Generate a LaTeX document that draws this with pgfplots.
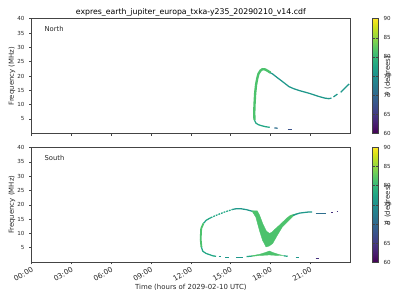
\documentclass[border=0pt]{standalone}
\usepackage{fontspec}
\setmainfont{DejaVu Sans}
\usepackage{pgfplots}
\pgfplotsset{compat=1.18}
\definecolor{vgreen}{HTML}{4CC26C}
\definecolor{vteal}{HTML}{22A785}
\definecolor{vteal2}{HTML}{1F988B}
\definecolor{vblue}{HTML}{2E6E8E}
\definecolor{vdblue}{HTML}{3B528B}
\definecolor{vpurple}{HTML}{46327E}
\definecolor{spine}{HTML}{444444}
\tikzset{cblabel/.style={xshift=27.4pt, rotate=90, anchor=center, font=\fontsize{5}{6}\selectfont, text=black!85}}
\pgfplotsset{
  panel/.style={
    scale only axis, width=229.2pt, height=82.5pt,
    xmin=0, xmax=24, ymin=0, ymax=40, clip=false,
    xtick={0,3,...,21}, ytick={5,10,...,40},
    xtick pos=bottom, ytick pos=left, tick align=outside,
    major tick length=1.7pt,
    /pgf/number format/assume math mode=true,
    tick label style={font=\fontsize{4}{5}\selectfont, text=black!85},
    label style={font=\fontsize{5}{6}\selectfont, text=black!85},
    axis line style={spine, line width=0.5pt},
    tick style={spine, line width=0.4pt},
    ylabel={Frequency (MHz)},
    ylabel style={at={(rel axis cs:-0.062,0.5)}, anchor=center},
    colormap/viridis, point meta min=60, point meta max=90,
    colorbar,
    colorbar style={
      at={(parent axis.north east)}, anchor=north west, xshift=7.9pt,
      width=4.3pt, ytick={60,65,...,90},
      major tick length=1.7pt,
      yticklabel style={font=\fontsize{4}{5}\selectfont, text=black!85},
      axis line style={spine, line width=0.5pt},
      tick style={spine, line width=0.4pt},
      /pgf/number format/assume math mode=true,
    },
  },
  thin/.style={line width=0.9pt, line join=round, line cap=butt},
}
\begin{document}
\begin{tikzpicture}
\path[use as bounding box] (0,0) rectangle (288pt,216pt);
% ---------------- North ----------------
\begin{axis}[panel, at={(22.8pt,120pt)}, anchor=south west, xticklabels={},
  title={expres\_earth\_jupiter\_europa\_txka-y235\_20290210\_v14.cdf},
  every axis title/.style={at={(axis description cs:0.5,1)}, anchor=base, yshift=3.2pt, font=\fontsize{5.6}{6.5}\selectfont, inner sep=0pt}]
% descending branch
\addplot[thin, vteal2] coordinates {(17.9,21.4) (18.17,20.7) (18.5,19.5) (18.9,18.1) (19.4,16.3) (19.8,15.5) (20.2,14.9) (20.9,14.0) (21.3,13.4) (21.7,12.8) (22.1,12.3) (22.4,12.1) (22.6,12.3)};
\addplot[thin, vteal2] coordinates {(22.75,12.7) (23.05,13.7)};
\addplot[thin, vteal2] coordinates {(23.3,14.3) (23.6,15.7) (23.93,17.2)};
% lower tail
\addplot[thin, vteal] coordinates {(16.8,4.6) (16.9,3.6) (17.1,3.0) (17.3,2.7) (17.65,2.3) (17.95,2.1)};
\addplot[thin, vblue] coordinates {(18.3,1.85) (18.55,1.8)};
\addplot[thin, vdblue] coordinates {(19.3,1.4) (19.6,1.4)};
% thick rising branch
\addplot[line width=1.7pt, vgreen, line join=round] coordinates {(16.8,4.6) (16.78,7) (16.8,10) (16.85,14) (16.92,17) (17.0,19) (17.1,20.8) (17.25,21.9) (17.4,22.4) (17.6,22.3) (17.8,21.8) (18.0,21.2)};
\node[anchor=west, font=\fontsize{4.9}{5.5}\selectfont, text=black!85] at (rel axis cs:0.025,0.91) {North};
\node[cblabel] at (rel axis cs:1,0.5) {$\theta$ (degrees)};
\end{axis}
% ---------------- South ----------------
\begin{axis}[panel, at={(22.8pt,27.3pt)}, anchor=south west,
  xticklabels={00:00,03:00,06:00,09:00,12:00,15:00,18:00,21:00},
  xticklabel style={rotate=30, anchor=north east, inner sep=1pt, font=\fontsize{5.2}{6}\selectfont},
  xlabel={Time (hours of 2029-02-10 UTC)},
  xlabel style={at={(axis description cs:0.5,-0.216)}, anchor=center}]
% upper arc
\addplot[thin, vteal] coordinates {(12.95,13.5) (13.16,14.6) (13.5,15.5)};
\addplot[thin, vteal, dash pattern=on 1.3pt off 0.7pt] coordinates {(13.5,15.5) (13.9,16.3) (14.5,17.4) (15.16,18.4)};
\addplot[thin, vteal2] coordinates {(15.16,18.4) (15.4,18.6) (15.8,18.6) (16.2,18.3) (16.66,17.7) (16.9,17.5)};
\addplot[line width=1.3pt, vgreen, line join=round] coordinates {(12.8,5.2) (12.74,8) (12.78,11.7) (12.95,13.5)};
% V shaped band
\addplot[fill=vgreen, draw=vgreen, line width=0.3pt] coordinates {(16.6,17.9) (16.9,15.7) (17.17,11.1) (17.4,7.7) (17.67,5.3) (17.9,5.6) (18.17,6.5) (18.5,9.2) (18.9,12.3) (19.4,14.6) (19.7,16.0) (19.95,16.9) (19.5,16.3) (19.2,15.2) (18.8,13.4) (18.4,11.7) (18.1,10.4) (17.92,10.0) (17.7,10.8) (17.42,13.4) (17.17,16.5) (17.0,17.9)} --cycle;
% continuation to the right
\addplot[thin, vteal2] coordinates {(19.7,16.3) (20.2,17.1) (20.9,17.5) (21.15,17.5)};
\addplot[thin, vblue] coordinates {(21.4,16.9) (22.2,16.9)};
\addplot[thin, vpurple] coordinates {(22.6,17.4) (22.75,17.4)};
\addplot[thin, vpurple] coordinates {(23.0,17.7) (23.12,17.7)};
% lower arc
\addplot[thin, vteal] coordinates {(12.8,5.2) (12.9,3.8) (13.16,3.0) (13.65,2.2) (13.9,2.0)};
\addplot[thin, vteal2] coordinates {(14.1,1.9) (14.3,1.9)};
\addplot[thin, vteal2] coordinates {(14.6,1.7) (14.9,1.7)};
\addplot[thin, vteal2] coordinates {(15.4,1.7) (15.9,1.7)};
\addplot[thin, vteal] coordinates {(16.2,1.9) (16.6,2.1)};
\addplot[fill=vgreen, draw=vgreen, line width=0.3pt] coordinates {(16.6,2.2) (17.17,2.7) (17.6,3.3) (17.92,3.85) (18.2,3.3) (18.67,2.6) (19.0,2.3) (18.67,2.3) (18.2,2.4) (17.92,2.5) (17.6,2.4) (17.17,2.3) (16.6,2.0)} --cycle;
\addplot[thin, vteal] coordinates {(19.0,2.2) (19.3,2.0)};
\addplot[thin, vteal2] coordinates {(19.9,1.7) (20.15,1.7)};
\addplot[thin, vpurple] coordinates {(21.4,1.3) (21.7,1.3)};
\node[anchor=west, font=\fontsize{4.9}{5.5}\selectfont, text=black!85] at (rel axis cs:0.025,0.91) {South};
\node[cblabel] at (rel axis cs:1,0.5) {$\theta$ (degrees)};
\end{axis}
\end{tikzpicture}
\end{document}
